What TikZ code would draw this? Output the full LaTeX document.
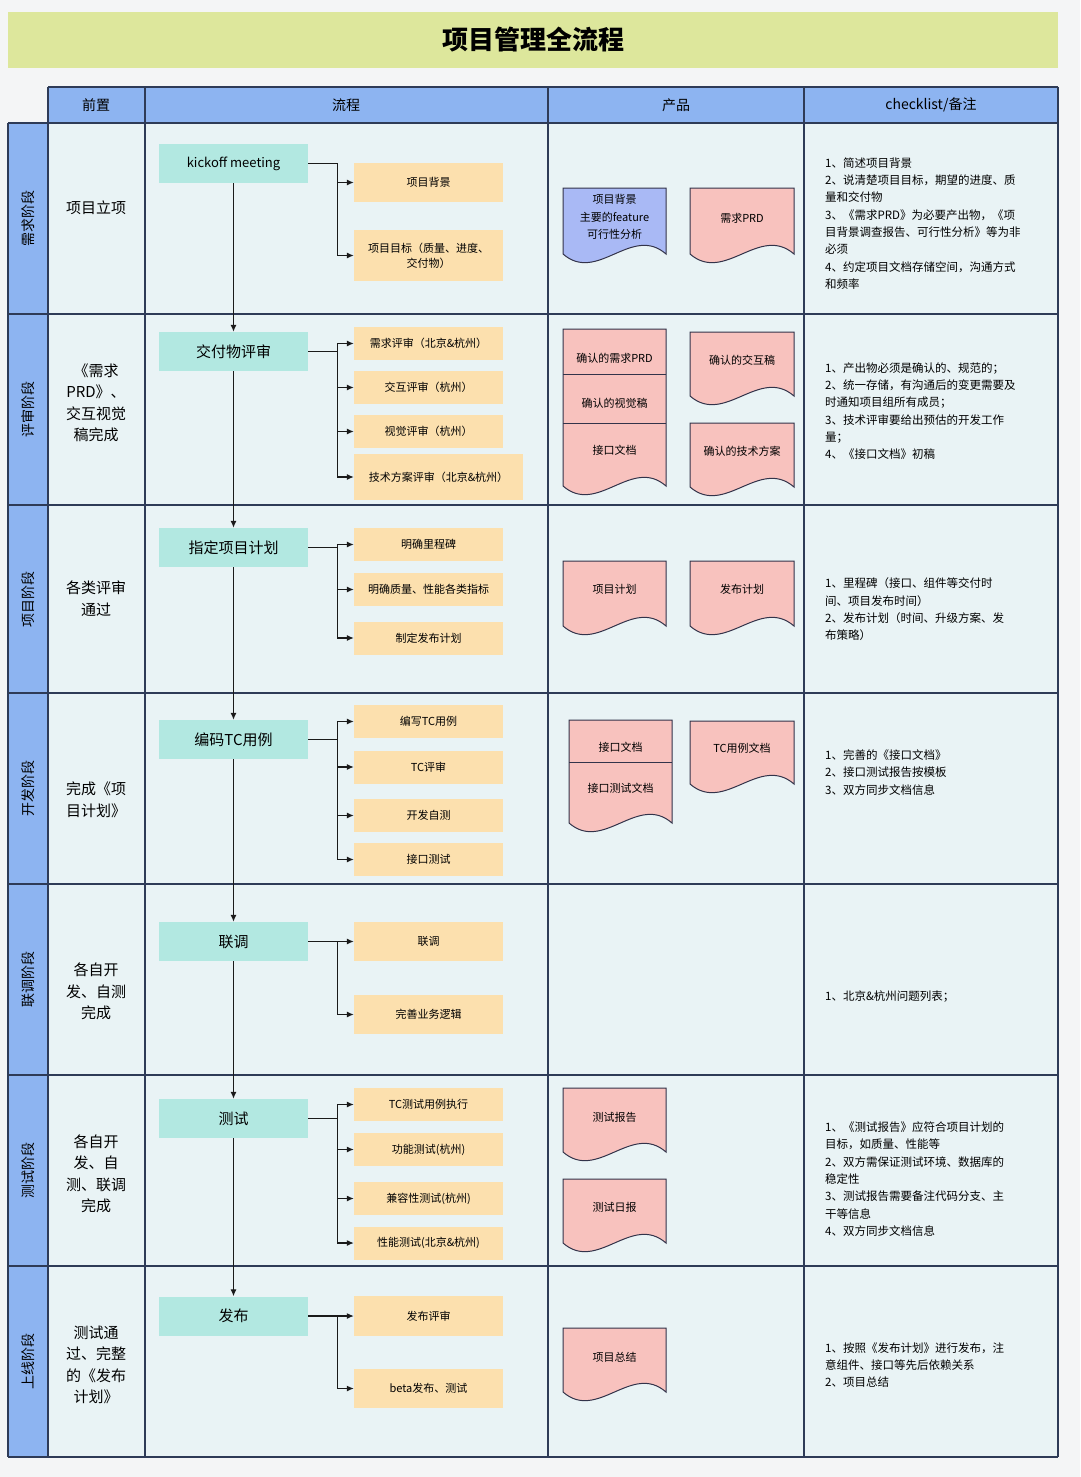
\documentclass[tikz,border=0pt]{standalone}
\usepackage{fontspec}
\setmainfont{Noto Sans CJK SC}
\usetikzlibrary{arrows.meta,calc}
\definecolor{bgc}{HTML}{F4F5F6}
\definecolor{titlec}{HTML}{DDE79C}
\definecolor{headc}{HTML}{8DB4F1}
\definecolor{cellc}{HTML}{E9F3F5}
\definecolor{gridc}{HTML}{2E3B57}
\definecolor{tealc}{HTML}{B2E8E1}
\definecolor{orangec}{HTML}{FCE0AE}
\definecolor{pinkc}{HTML}{F8C2BE}
\definecolor{bluedoc}{HTML}{A9B9F5}
\definecolor{docline}{HTML}{33334A}
\definecolor{linec}{HTML}{1A1A1A}
\newcommand\mydoc[5]{%
  \path[draw=docline, line width=1pt, fill=#5] (#1,#2) -- (#3,#2) -- (#3,#4)
    .. controls ({#1+(#3-#1)*2/3},{#4-30}) and ({#1+(#3-#1)/3},{#4+30}) .. (#1,#4) -- cycle;}
\tikzset{
  procbox/.style={fill=tealc, minimum width=149pt, minimum height=39pt, inner sep=0pt, font=\fontsize{15}{18}\selectfont},
  subbox/.style={fill=orangec, minimum width=149pt, inner sep=0pt, align=center, font=\fontsize{11}{15}\selectfont},
  flow/.style={draw=linec, line width=1.1pt, -{Latex[length=7pt,width=6pt]}},
  gridline/.style={draw=gridc, line width=1.5pt},
  doctext/.style={align=center, inner sep=0pt, font=\fontsize{11}{17.5}\selectfont},
  note/.style={anchor=west, align=left, inner sep=0pt, font=\fontsize{11.5}{17.3}\selectfont},
  pre/.style={align=center, inner sep=0pt, font=\fontsize{15}{21.5}\selectfont},
  stage/.style={rotate=90, inner sep=0pt, font=\fontsize{14}{16}\selectfont},
  hdr/.style={inner sep=0pt, font=\fontsize{14}{16}\selectfont},
}
\begin{document}
\begin{tikzpicture}[x=1pt,y=-1pt]
\useasboundingbox (0,0) rectangle (1080,1477);
\fill[bgc] (0,0) rectangle (1080,1477);
% title
\fill[titlec] (8,12) rectangle (1058,68);
\node (title) at (533,40) {\fontsize{26}{30}\selectfont\bfseries 项目管理全流程};
% table fills
\fill[headc] (48,87) rectangle (1058,123);
\fill[headc] (8,123) rectangle (48,1457);
\fill[cellc] (48,123) rectangle (1058,1457);
% grid
\draw[gridline] (48,87) -- (1058,87);
\draw[gridline] (8,123) -- (1058,123);
\foreach \yy in {314,505,693,884,1075,1266,1457} {\draw[gridline] (8,\yy) -- (1058,\yy);}
\draw[gridline] (8,123) -- (8,1457);
\foreach \xx in {48,145,548,804,1058} {\draw[gridline] (\xx,87) -- (\xx,1457);}
% headers
\node[hdr] (h1) at (96,105) {前置};
\node[hdr] (h2) at (346,105) {流程};
\node[hdr] (h3) at (676,105) {产品};
\node[hdr] (h4) at (931,105) {checklist/备注};
% stages
\node[stage] (s1) at (28,218.5) {需求阶段};
\node[stage] (s2) at (28,409.5) {评审阶段};
\node[stage] (s3) at (28,599) {项目阶段};
\node[stage] (s4) at (28,788.5) {开发阶段};
\node[stage] (s5) at (28,979.5) {联调阶段};
\node[stage] (s6) at (28,1170.5) {测试阶段};
\node[stage] (s7) at (28,1361.5) {上线阶段};
% prerequisites
\node[pre] (p1) at (96,208) {项目立项};
\node[pre] (p2) at (96,403) {《需求\\PRD》、\\交互视觉\\稿完成};
\node[pre] (p3) at (96,598.5) {各类评审\\通过};
\node[pre] (p4) at (96,800) {完成《项\\目计划》};
\node[pre] (p5) at (96,991.5) {各自开\\发、自测\\完成};
\node[pre] (p6) at (96,1174) {各自开\\发、自\\测、联调\\完成};
\node[pre] (p7) at (96,1365) {测试通\\过、完整\\的《发布\\计划》};
% process boxes
\node[procbox, font=\fontsize{13}{16}\selectfont] (t1) at (233.5,163.5) {kickoff meeting};
\node[procbox] (t2) at (233.5,351.5) {交付物评审};
\node[procbox] (t3) at (233.5,547.5) {指定项目计划};
\node[procbox] (t4) at (233.5,739.5) {编码TC用例};
\node[procbox] (t5) at (233.5,941.5) {联调};
\node[procbox] (t6) at (233.5,1118.5) {测试};
\node[procbox] (t7) at (233.5,1316) {发布};
% sub steps
\node[subbox, minimum height=39pt] (o11) at (428.5,182.5) {项目背景};
\node[subbox, minimum height=51pt] (o12) at (428.5,255.5) {项目目标（质量、进度、\\交付物）};
\node[subbox, minimum height=33pt] (o21) at (428.5,343.5) {需求评审（北京\&杭州）};
\node[subbox, minimum height=33pt] (o22) at (428.5,387.5) {交互评审（杭州）};
\node[subbox, minimum height=33pt] (o23) at (428.5,431.5) {视觉评审（杭州）};
\node[subbox, minimum height=46pt, minimum width=169pt] (o24) at (438.5,477) {技术方案评审（北京\&杭州）};
\node[subbox, minimum height=33pt] (o31) at (428.5,544.5) {明确里程碑};
\node[subbox, minimum height=33pt] (o32) at (428.5,589.5) {明确质量、性能各类指标};
\node[subbox, minimum height=33pt] (o33) at (428.5,638) {制定发布计划};
\node[subbox, minimum height=33pt] (o41) at (428.5,721.5) {编写TC用例};
\node[subbox, minimum height=33pt] (o42) at (428.5,767) {TC评审};
\node[subbox, minimum height=33pt] (o43) at (428.5,815.5) {开发自测};
\node[subbox, minimum height=33pt] (o44) at (428.5,859.5) {接口测试};
\node[subbox, minimum height=39pt] (o51) at (428.5,941.5) {联调};
\node[subbox, minimum height=39pt] (o52) at (428.5,1014.5) {完善业务逻辑};
\node[subbox, minimum height=33pt] (o61) at (428.5,1104.5) {TC测试用例执行};
\node[subbox, minimum height=33pt] (o62) at (428.5,1149.5) {功能测试(杭州)};
\node[subbox, minimum height=33pt] (o63) at (428.5,1198.5) {兼容性测试(杭州)};
\node[subbox, minimum height=33pt] (o64) at (428.5,1243) {性能测试(北京\&杭州)};
\node[subbox, minimum height=40pt] (o71) at (428.5,1316) {发布评审};
\node[subbox, minimum height=39pt] (o72) at (428.5,1388.5) {beta发布、测试};
% main flow
\draw[flow] (t1) -- (t2);
\draw[flow] (t2) -- (t3);
\draw[flow] (t3) -- (t4);
\draw[flow] (t4) -- (t5);
\draw[flow] (t5) -- (t6);
\draw[flow] (t6) -- (t7);
% branches
\foreach \t/\o in {t1/o11,t1/o12,t2/o21,t2/o22,t2/o23,t2/o24,t3/o31,t3/o32,t3/o33,t4/o41,t4/o42,t4/o43,t4/o44,t5/o51,t5/o52,t6/o61,t6/o62,t6/o63,t6/o64,t7/o71,t7/o72}
  {\draw[flow] (\t.east) -- ++(29,0) |- (\o.west);}
% products
\mydoc{563}{188}{666}{254}{bluedoc}
\node[doctext] (d11) at (614.5,217) {项目背景\\主要的feature\\可行性分析};
\mydoc{690}{188}{794}{254}{pinkc}
\node[doctext] (d12) at (742,218) {需求PRD};
\mydoc{563}{329}{666}{486}{pinkc}
\draw[draw=docline, line width=1pt] (563,374) -- (666,374);
\draw[draw=docline, line width=1pt] (563,423) -- (666,423);
\node[doctext] (d21) at (614.5,358) {确认的需求PRD};
\node[doctext] (d22) at (614.5,403) {确认的视觉稿};
\node[doctext] (d23) at (614.5,450) {接口文档};
\mydoc{690}{332}{794}{396}{pinkc}
\node[doctext] (d24) at (742,360) {确认的交互稿};
\mydoc{690}{423}{794}{487}{pinkc}
\node[doctext] (d25) at (742,451) {确认的技术方案};
\mydoc{563}{561}{666}{626}{pinkc}
\node[doctext] (d31) at (614.5,589) {项目计划};
\mydoc{690}{561}{794}{626}{pinkc}
\node[doctext] (d32) at (742,589) {发布计划};
\mydoc{569}{720}{672}{823}{pinkc}
\draw[draw=docline, line width=1pt] (569,762) -- (672,762);
\node[doctext] (d41) at (620.5,747) {接口文档};
\node[doctext] (d42) at (620.5,788) {接口测试文档};
\mydoc{690}{721}{794}{784}{pinkc}
\node[doctext] (d43) at (742,748) {TC用例文档};
\mydoc{563}{1088}{666}{1152}{pinkc}
\node[doctext] (d61) at (614.5,1117) {测试报告};
\mydoc{563}{1179}{666}{1243}{pinkc}
\node[doctext] (d62) at (614.5,1207) {测试日报};
\mydoc{563}{1328}{666}{1392}{pinkc}
\node[doctext] (d71) at (614.5,1357) {项目总结};
% checklist
\node[note] (n1) at (825,223.5) {1、简述项目背景\\2、说清楚项目目标，期望的进度、质\\量和交付物\\3、《需求PRD》为必要产出物，《项\\目背景调查报告、可行性分析》等为非\\必须\\4、约定项目文档存储空间，沟通方式\\和频率};
\node[note] (n2) at (825,411) {1、产出物必须是确认的、规范的；\\2、统一存储，有沟通后的变更需要及\\时通知项目组所有成员；\\3、技术评审要给出预估的开发工作\\量；\\4、《接口文档》初稿};
\node[note] (n3) at (825,609.5) {1、里程碑（接口、组件等交付时\\间、项目发布时间）\\2、发布计划（时间、升级方案、发\\布策略）};
\node[note] (n4) at (825,772.5) {1、完善的《接口文档》\\2、接口测试报告按模板\\3、双方同步文档信息};
\node[note] (n5) at (825,997) {1、北京\&杭州问题列表；};
\node[note] (n6) at (825,1179) {1、《测试报告》应符合项目计划的\\目标，如质量、性能等\\2、双方需保证测试环境、数据库的\\稳定性\\3、测试报告需要备注代码分支、主\\干等信息\\4、双方同步文档信息};
\node[note] (n7) at (825,1365) {1、按照《发布计划》进行发布，注\\意组件、接口等先后依赖关系\\2、项目总结};
\end{tikzpicture}
\end{document}
